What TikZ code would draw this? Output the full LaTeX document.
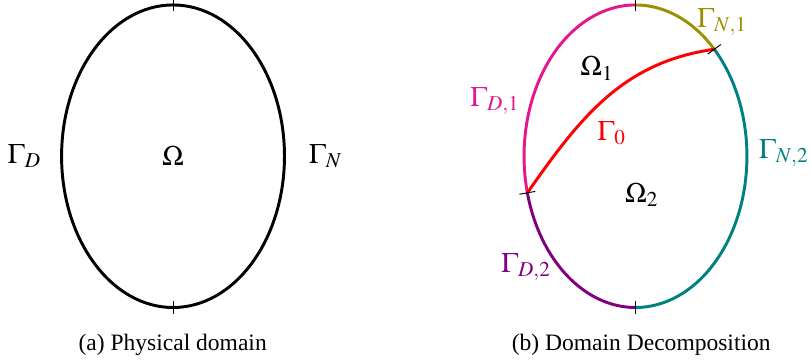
\documentclass[tikz,border=0pt]{standalone}
\usepackage{mathptmx}
\usepackage[no-math]{fontspec}
\setmainfont{Liberation Serif}
\usepackage{tikz}
\usetikzlibrary{shapes.geometric, positioning, calc}
\definecolor{mymag}{RGB}{228,24,140}
\definecolor{myolive}{RGB}{155,145,0}
\definecolor{myteal}{RGB}{0,128,128}
\definecolor{mypurple}{RGB}{128,0,128}
\definecolor{myred}{RGB}{255,0,0}
\tikzset{
  physdom/.style={ellipse, draw=black, line width=1.25pt,
    minimum width=3.33cm, minimum height=4.52cm,
    inner sep=0pt, outer sep=0pt, font=\large},
  bound/.style={line width=1.25pt},
  iface/.style={line width=1.25pt, color=myred},
  lbl/.style={font=\large},
  caption/.style={font=\normalsize},
  tick/.style={line width=0.4pt, color=black}
}

\begin{document}
\begin{tikzpicture}
  \useasboundingbox (0,0) rectangle (12.116,5.438);
  % (a) physical domain
  \node[physdom] (phys) at (2.585,3.104) {$\Omega$};
  \node[lbl, left=0.18cm of phys] (gd) {$\Gamma_D$};
  \node[lbl, right=0.24cm of phys] (gn) {$\Gamma_N$};
  \node[caption] (capa) at (2.58,0.284) {(a) Physical domain};
  \draw[tick] ($(phys.north)+(0,0.09)$) -- ($(phys.north)-(0,0.09)$);
  \draw[tick] ($(phys.south)+(0,0.09)$) -- ($(phys.south)-(0,0.09)$);

  % (b) domain decomposition
  \coordinate (dd) at (9.494,3.104);
  \coordinate (top) at ($(dd)+(90:1.665cm and 2.26cm)$);
  \coordinate (bot) at ($(dd)+(270:1.665cm and 2.26cm)$);
  \coordinate (jr) at ($(dd)+(45:1.665cm and 2.26cm)$);
  \coordinate (jl) at ($(dd)+(194:1.665cm and 2.26cm)$);
  \draw[bound, mymag] (top) arc[start angle=90, end angle=194, x radius=1.665cm, y radius=2.26cm];
  \draw[bound, mypurple] (jl) arc[start angle=194, end angle=270, x radius=1.665cm, y radius=2.26cm];
  \draw[bound, myteal] (bot) arc[start angle=270, end angle=405, x radius=1.665cm, y radius=2.26cm];
  \draw[bound, myolive] (jr) arc[start angle=45, end angle=90, x radius=1.665cm, y radius=2.26cm];
  \draw[iface] (jl) to[out=55, in=188] (jr);
  \draw[tick] ($(top)+(0,0.09)$) -- ($(top)-(0,0.09)$);
  \draw[tick] ($(bot)+(0,0.09)$) -- ($(bot)-(0,0.09)$);
  \draw[tick] ($(jr)+(36:0.12)$) -- ($(jr)-(36:0.12)$);
  \draw[tick] ($(jl)+(10:0.12)$) -- ($(jl)-(10:0.12)$);

  \node[lbl] (om1) at (8.92,4.42) {$\Omega_1$};
  \node[lbl] (om2) at (9.59,2.525) {$\Omega_2$};
  \node[lbl, mymag] (gd1) at (7.395,3.93) {$\Gamma_{D,1}$};
  \node[lbl, mypurple] (gd2) at (7.86,1.45) {$\Gamma_{D,2}$};
  \node[lbl, myolive, inner sep=0.5pt] (gn1) at (10.79,5.11) {$\Gamma_{N,1}$};
  \node[lbl, myteal] (gn2) at (11.71,3.15) {$\Gamma_{N,2}$};
  \node[lbl, myred] (g0) at (9.14,3.45) {$\Gamma_0$};
  \node[caption] (capb) at (9.58,0.284) {(b) Domain Decomposition};
\end{tikzpicture}
\end{document}
